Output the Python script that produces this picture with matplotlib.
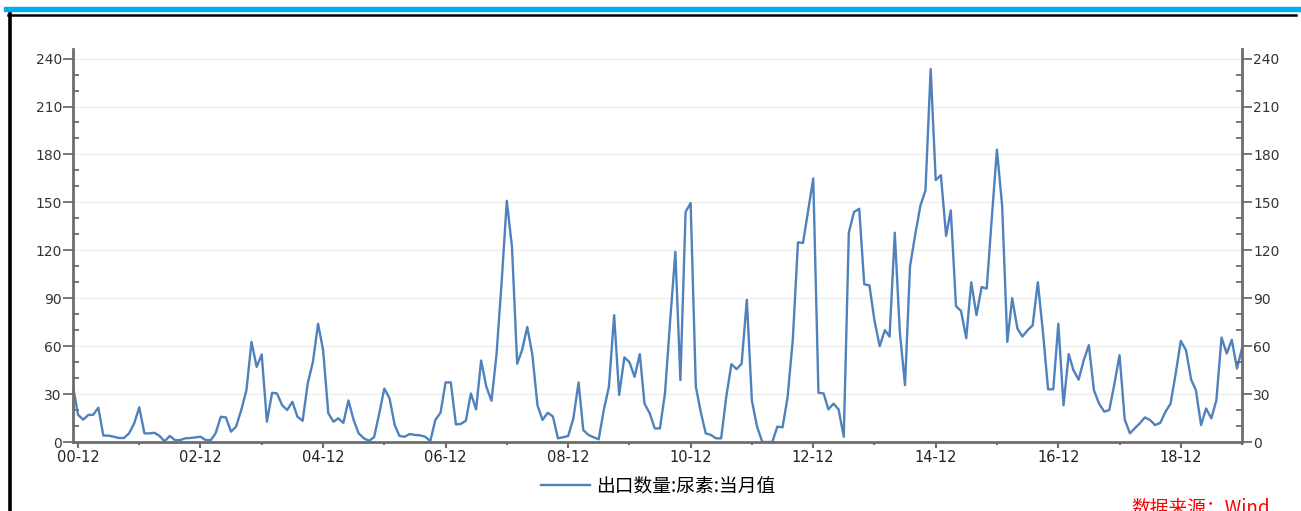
import numpy as np
import pandas as pd
import matplotlib
matplotlib.use("Agg")
import matplotlib.pyplot as plt
import matplotlib.dates as mdates
from matplotlib.ticker import MultipleLocator, FixedLocator
from matplotlib.patches import Rectangle
from matplotlib.lines import Line2D

plt.rcParams['font.family'] = ['DejaVu Sans', 'Noto Sans CJK SC']

# monthly urea exports, 2000-11 .. 2019-12
start_month = "2000-11"
values = [
    35, 17, 14, 17, 17, 21.5, 4, 4, 3.3, 2.5, 2.5, 5.4, 11.7, 21.7,
    5.4, 5.4, 5.8, 3.8, 0.4, 3.8, 1.2, 1.2, 2.3, 2.5, 2.9, 3.3,
    1.2, 1.2, 5.4, 15.8, 15.4, 6.5, 9.6, 20, 32.5, 62.7, 47, 54.8,
    12.7, 30.8, 30.4, 23, 20, 25.2, 15.8, 13.3, 37, 50, 74, 57.5,
    18, 12.7, 14.8, 12, 26, 13.8, 5.4, 2.3, 0.8, 3, 18, 33.5,
    27.3, 10.6, 3.8, 3.3, 5, 4.4, 4.2, 3.3, 0.6, 13.8, 18.3, 37.3,
    37.3, 11, 11.3, 13.3, 30.4, 20.4, 51, 34.6, 25.8, 55, 101, 151,
    122, 49, 57.5, 72, 55, 23, 13.8, 18.3, 16, 2.3, 3, 3.75,
    14.8, 37.3, 7.5, 4.4, 3, 1.7, 20, 34.6, 79.4, 29.4, 53, 50,
    40.8, 55, 24, 18, 8.5, 8.5, 30.4, 76, 119, 38.75, 144, 149.6,
    34.6, 18, 5.4, 4.4, 2.3, 2.3, 28, 48.75, 45.6, 49, 89, 26,
    9.6, 0, 0, 0, 9.6, 9.2, 28, 64, 125, 124.6, 145, 165,
    30.8, 30.4, 20.4, 24, 20.4, 3.3, 131, 144, 146, 98.75, 98, 76,
    60, 70, 66, 131, 69, 35.6, 110, 130, 148, 157.5, 233.5, 164,
    167, 129, 145, 85, 82, 65, 100, 79.4, 97, 96, 141, 183,
    148, 62.7, 90, 71, 66, 70, 73, 100, 68, 33, 33, 74,
    23, 55, 45, 39, 51, 60.6, 32.5, 24, 19, 20, 36.7, 54.4,
    14, 5.4, 8.5, 11.7, 15.4, 13.75, 10.6, 12, 19, 24, 43, 63.3,
    57.5, 39, 32.5, 10.6, 21, 14.8, 26, 65.4, 55.4, 64, 46, 58.5,
]
dates = pd.date_range(start_month, periods=len(values), freq="MS")
series_name = "出口数量:尿素:当月值"
source_text = "数据来源：Wind"
y_ticks = [0, 30, 60, 90, 120, 150, 180, 210, 240]
label_years = list(range(2000, 2019, 2))
minor_years = list(range(2001, 2020, 2))

W, H = 1301, 511
fig = plt.figure(figsize=(W / 100, H / 100), dpi=100)
ax = fig.add_axes([73 / W, 1 - 442 / H, (1242 - 73) / W, (442 - 49) / H])

ax.plot(dates, values, color="#4f81bd", lw=1.7)

ax.set_xlim(dates[0], dates[-1])
ax.set_ylim(0, 246)

major_dates = [mdates.date2num(pd.Timestamp(f"{y}-12-01")) for y in label_years]
minor_dates = [mdates.date2num(pd.Timestamp(f"{y}-12-01")) for y in minor_years]
ax.xaxis.set_major_locator(FixedLocator(major_dates))
ax.xaxis.set_minor_locator(FixedLocator(minor_dates))
ax.set_xticklabels([f"{y % 100:02d}-12" for y in label_years])

ax.yaxis.set_major_locator(FixedLocator(y_ticks))
ax.yaxis.set_minor_locator(MultipleLocator(10))
ax.grid(axis="y", which="major", color="#eeeeee", lw=0.9)

spine_c = "#6d6d6d"
for s in ["top", "right"]:
    ax.spines[s].set_visible(False)
for s in ["left", "bottom"]:
    ax.spines[s].set_color(spine_c)
    ax.spines[s].set_linewidth(2)

ax.tick_params(axis="x", which="major", direction="out", length=4, width=1.5,
               color=spine_c, labelsize=10.5, labelcolor="#222222", pad=2)
ax.tick_params(axis="x", which="minor", direction="out", length=2.5, width=1.5, color=spine_c)
ax.tick_params(axis="y", which="major", direction="out", length=7, width=1.3,
               color=spine_c, labelsize=10, labelcolor="#333333", pad=1)
ax.tick_params(axis="y", which="minor", direction="in", length=4.5, width=1.3, color=spine_c)

# right axis mirrors the left one
ax2 = ax.twinx()
ax2.set_ylim(ax.get_ylim())
ax2.yaxis.set_major_locator(FixedLocator(y_ticks))
ax2.yaxis.set_minor_locator(MultipleLocator(10))
for s in ["top", "left", "bottom"]:
    ax2.spines[s].set_visible(False)
ax2.spines["right"].set_color(spine_c)
ax2.spines["right"].set_linewidth(2)
ax2.tick_params(axis="y", which="major", direction="out", length=7, width=1.3,
                color=spine_c, labelsize=10, labelcolor="#333333", pad=1)
ax2.tick_params(axis="y", which="minor", direction="in", length=4.5, width=1.3, color=spine_c)

# legend below the plot
fig.legend([Line2D([], [], color="#4f81bd", lw=1.7)], [series_name],
           loc="center", bbox_to_anchor=(658 / W, 1 - 486 / H), frameon=False,
           handlelength=2.6, handletextpad=0.3,
           prop={"family": ["Noto Sans CJK SC", "DejaVu Sans"], "size": 13.5})

fig.text(1131 / W, 1 - 508 / H, source_text, color="red", fontsize=13.5, style="italic",
         va="center", ha="left", family=["Noto Sans CJK SC", "DejaVu Sans"])

# page decorations: blue bar and black frame
fig.patches.append(Rectangle((4 / W, 1 - 10.7 / H), 1 - 4 / W, 4 / H,
                             transform=fig.transFigure, color="#00aeef", zorder=0))
fig.add_artist(Line2D([9.5 / W, 9.5 / W], [0, 1 - 14 / H], color="black", lw=2.6,
                      transform=fig.transFigure))
fig.add_artist(Line2D([8 / W, 1296 / W], [1 - 15 / H, 1 - 15 / H], color="black", lw=1.8,
                      transform=fig.transFigure))

fig.savefig("out.png", dpi=100)
